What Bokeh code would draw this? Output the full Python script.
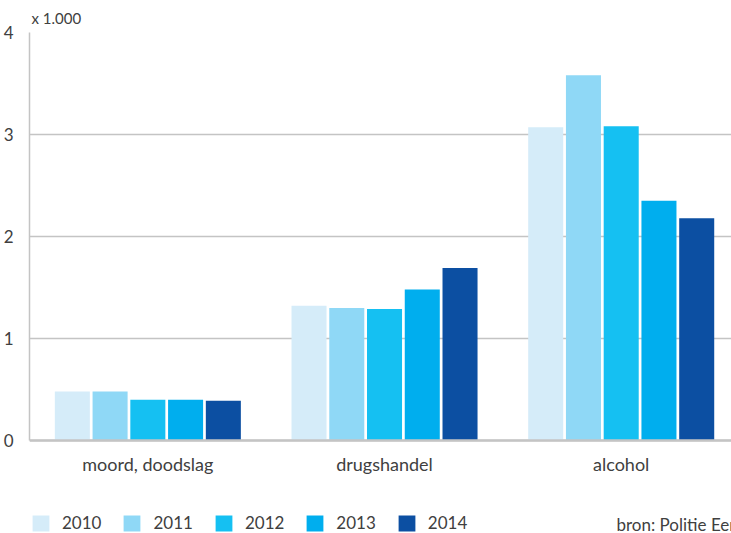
from bokeh.plotting import figure
from bokeh.models import FixedTicker, Legend, LegendItem, ColumnDataSource, Label
from bokeh.embed import file_html
from bokeh.resources import INLINE

categories = ["moord, doodslag", "drugshandel", "alcohol"]
years = ["2010", "2011", "2012", "2013", "2014"]
v2010 = [0.48, 1.32, 3.07]
v2011 = [0.48, 1.30, 3.58]
v2012 = [0.40, 1.29, 3.08]
v2013 = [0.40, 1.48, 2.35]
v2014 = [0.39, 1.69, 2.18]
series = [v2010, v2011, v2012, v2013, v2014]
colors = ["#d5ecf9", "#8fd8f6", "#15c0f2", "#00aeee", "#0c4fa2"]
y_ticks = [0, 1, 2, 3, 4]
unit_label = "x 1.000"
source_text = "bron: Politie Eenheid Amsterdam"

FONT = "Lato"
TXT = "#404040"

p = figure(width=731, height=533, output_backend="svg", toolbar_location=None,
           x_range=(-0.5, 2.466), y_range=(-0.9118, 4),
           min_border_left=29, min_border_right=0, min_border_top=32, min_border_bottom=0)
p.outline_line_color = None
p.background_fill_color = "white"
p.border_fill_color = "white"

p.title.text = unit_label
p.title.align = "left"
p.title.offset = 2
p.title.standoff = 12
p.title.text_font = FONT
p.title.text_font_size = "15px"
p.title.text_font_style = "normal"
p.title.text_color = TXT

pitch = 0.1595
bw = 0.148
items = []
for j, (yr, vals, c) in enumerate(zip(years, series, colors)):
    xs = [i + (j - 2) * pitch for i in range(len(categories))]
    src = ColumnDataSource(dict(x=xs, top=vals))
    r = p.vbar(x="x", top="top", width=bw, bottom=0, source=src,
               fill_color=c, line_color=None)
    items.append(LegendItem(label=yr, renderers=[r]))

# axes
p.xaxis.fixed_location = 0
p.xaxis.ticker = FixedTicker(ticks=list(range(len(categories))))
p.xaxis.major_label_overrides = {i: c for i, c in enumerate(categories)}
p.xaxis.major_tick_line_color = None
p.xaxis.minor_tick_line_color = None
p.xaxis.axis_line_color = "#c4c4c4"
p.xaxis.axis_line_width = 2.5
p.xaxis.major_label_text_font = FONT
p.xaxis.major_label_text_font_size = "18px"
p.xaxis.major_label_text_color = TXT
p.xaxis.major_label_standoff = 7

p.yaxis.ticker = FixedTicker(ticks=y_ticks)
p.yaxis.bounds = (0, 4)
p.yaxis.major_tick_line_color = None
p.yaxis.minor_tick_line_color = None
p.yaxis.axis_line_color = "#c4c4c4"
p.yaxis.axis_line_width = 1.5
p.yaxis.major_label_text_font = FONT
p.yaxis.major_label_text_font_size = "17px"
p.yaxis.major_label_text_color = TXT
p.yaxis.major_label_standoff = 10

p.xgrid.grid_line_color = None
p.ygrid.ticker = FixedTicker(ticks=y_ticks)
p.ygrid.grid_line_color = "#c4c4c4"
p.ygrid.grid_line_width = 1.5

legend = Legend(items=items, orientation="horizontal", location=(1, 0),
                glyph_width=21, glyph_height=20, label_height=20,
                label_standoff=11, spacing=20, padding=0, margin=0,
                border_line_color=None, background_fill_alpha=0,
                label_text_font=FONT, label_text_font_size="17px",
                label_text_color=TXT)
p.add_layout(legend, "center")

p.add_layout(Label(x=-0.5, y=0, x_offset=587, y_offset=-84, text=source_text,
                   text_font=FONT, text_font_size="17px", text_color=TXT,
                   text_baseline="middle", text_align="left"))

open("out.html", "w").write(file_html(p, INLINE))
